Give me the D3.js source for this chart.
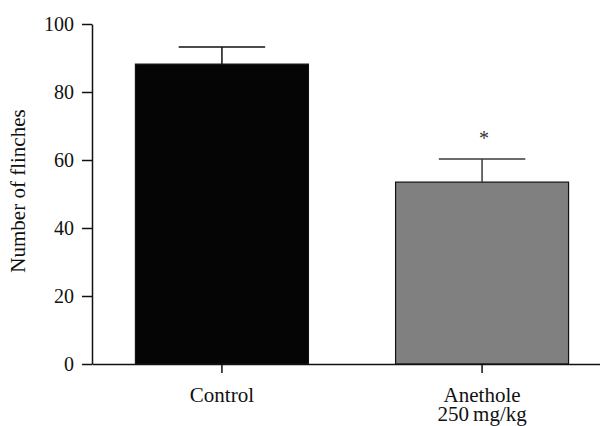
<!DOCTYPE html>
<html>
<head>
<meta charset="utf-8">
<script src="https://cdn.jsdelivr.net/npm/d3@7"></script>
<style>
  body { margin: 0; background: #fff; }
</style>
</head>
<body>
<div id="chart"></div>
<script>
// values
var groups = ["Control", "Anethole"];
var groupLabels = [["Control"], ["Anethole", "250\u2009mg/kg"]];
var means = [88.2, 53.5];
var errors = [5.0, 6.8];
var signif = ["", "*"];
var yTicks = [0, 20, 40, 60, 80, 100];

var width = 600, height = 426;
var serif = "'Liberation Serif', 'DejaVu Serif', serif";

var svg = d3.select("#chart").append("svg")
    .attr("width", width)
    .attr("height", height)
    .attr("font-family", serif);

let y = d3.scaleLinear().domain([0, 100]).range([364, 24]);
let x = d3.scaleBand().domain(groups).range([92, 612])
    .paddingInner(0.335).paddingOuter(0.167);

// bars
svg.selectAll("rect.bar")
  .data(groups)
  .enter()
    .append("rect")
    .attr("class", "bar")
    .attr("x", d => x(d))
    .attr("width", x.bandwidth())
    .attr("y", (d, i) => y(means[i]))
    .attr("height", (d, i) => y(0) - y(means[i]))
    .attr("fill", (d, i) => i == 0 ? "#050505" : "#808080")
    .attr("stroke", "#111")
    .attr("stroke-width", 1.2);

// error bars (upper only)
let cap = x.bandwidth() / 2;
groups.forEach(function(g, i) {
  let cx = x(g) + x.bandwidth() / 2;
  let col = i == 0 ? "#111" : "#3a3a3a";
  svg.append("line")
      .attr("x1", cx).attr("x2", cx)
      .attr("y1", y(means[i])).attr("y2", y(means[i] + errors[i]))
      .attr("stroke", col).attr("stroke-width", 1.5);
  svg.append("line")
      .attr("x1", cx - cap / 2).attr("x2", cx + cap / 2)
      .attr("y1", y(means[i] + errors[i])).attr("y2", y(means[i] + errors[i]))
      .attr("stroke", col).attr("stroke-width", 1.5);
  if (signif[i]) {
    svg.append("text")
        .attr("x", cx + 2)
        .attr("y", y(means[i] + errors[i]) - 14)
        .attr("text-anchor", "middle")
        .attr("font-family", serif)
        .style("font-size", "20px")
        .style("fill", "#333")
        .text(signif[i]);
  }
});

// y axis
let yAxis = d3.axisLeft(y).tickValues(yTicks).tickSize(10).tickSizeOuter(0).tickPadding(8);
let gy = svg.append("g").attr("transform", "translate(92,0)").call(yAxis);
gy.attr("font-family", serif);
gy.selectAll("text").style("font-size", "20px").style("fill", "#111");
gy.selectAll("line, path").attr("stroke", "#111").attr("stroke-width", 1.5);

// x axis
let xAxis = d3.axisBottom(x).tickSize(9).tickSizeOuter(0).tickFormat("");
let gx = svg.append("g").attr("transform", "translate(0,364)").call(xAxis);
gx.selectAll("line, path").attr("stroke", "#111").attr("stroke-width", 1.5);

groups.forEach(function(g, i) {
  let t = svg.append("text")
      .attr("text-anchor", "middle")
      .attr("x", x(g) + x.bandwidth() / 2)
      .attr("y", 402)
      .attr("font-family", serif)
      .style("font-size", "21px")
      .style("fill", "#111");
  groupLabels[i].forEach(function(s, j) {
    t.append("tspan")
        .attr("x", x(g) + x.bandwidth() / 2)
        .attr("dy", j == 0 ? 0 : 19)
        .text(s);
  });
});

// y label
svg.append("text")
    .attr("transform", "translate(25," + (y(50) - 3) + ") rotate(-90)")
    .attr("text-anchor", "middle")
    .attr("font-family", serif)
    .style("font-size", "21px")
    .style("fill", "#111")
    .text("Number of flinches");
</script>
</body>
</html>
